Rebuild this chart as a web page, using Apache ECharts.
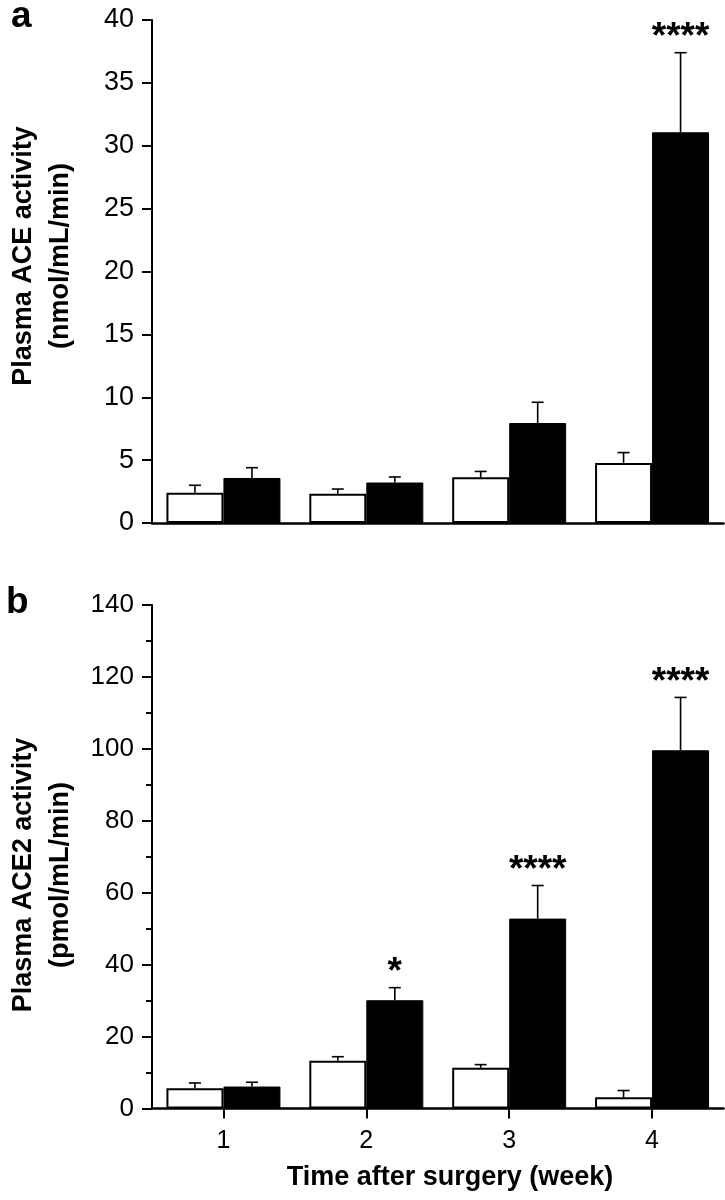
<!DOCTYPE html>
<html>
<head>
<meta charset="utf-8">
<script src="https://cdn.jsdelivr.net/npm/echarts@6/dist/echarts.min.js"></script>
<style>
html,body{margin:0;padding:0;background:#fff;}
#chart{width:725px;height:1200px;}
</style>
</head>
<body>
<div id="chart"></div>
<script>
// ---- data ----
const weeks = ['1', '2', '3', '4'];
// Panel a: plasma ACE activity (nmol/mL/min)
const aceOpen = [2.40, 2.32, 3.63, 4.78];
const aceOpenSem = [0.60, 0.38, 0.47, 0.82];
const aceFilled = [3.58, 3.22, 7.95, 31.07];
const aceFilledSem = [0.82, 0.44, 1.65, 6.33];
const aceSig = ['', '', '', '****'];
// Panel b: plasma ACE2 activity (pmol/mL/min)
const ace2Open = [5.6, 13.3, 11.3, 3.1];
const ace2OpenSem = [1.5, 1.1, 0.9, 1.9];
const ace2Filled = [6.1, 30.1, 52.8, 99.6];
const ace2FilledSem = [1.2, 3.5, 9.2, 14.7];
const ace2Sig = ['', '*', '****', '****'];
const aceTicks = {min: 0, max: 40, interval: 5};
const ace2Ticks = {min: 0, max: 140, interval: 20};

// ---- styles ----
const FONT = 'Liberation Sans, Arial, Helvetica, sans-serif';
const BAR_W = 57;

const chart = echarts.init(document.getElementById('chart'), null, {renderer: 'canvas'});

function errSeries(gridIdx, means, sems, offset, sig) {
  return {
    type: 'custom',
    xAxisIndex: gridIdx,
    yAxisIndex: gridIdx,
    z: 5,
    clip: false,
    silent: true,
    encode: {x: 0, y: 1},
    data: means.map((m, i) => [i, m, sems[i]]),
    renderItem: function (params, api) {
      const i = api.value(0);
      const m = api.value(1);
      const s = api.value(2);
      const base = api.coord([i, m]);
      const top = api.coord([i, m + s]);
      const x = base[0] + offset;
      const children = [
        {type: 'line', shape: {x1: x, y1: base[1], x2: x, y2: top[1]},
         style: {stroke: '#000', lineWidth: 1.6}},
        {type: 'line', shape: {x1: x - 6, y1: top[1], x2: x + 6, y2: top[1]},
         style: {stroke: '#000', lineWidth: 1.6}}
      ];
      const t = sig ? sig[params.dataIndex] : '';
      if (t) {
        children.push({type: 'text', x: x, y: top[1] - 15,
          style: {text: t, font: 'bold 37px ' + FONT, fill: '#000',
                  align: 'center', verticalAlign: 'middle'}});
      }
      return {type: 'group', children: children};
    }
  };
}

function barSeries(gridIdx, data, filled) {
  return {
    type: 'bar',
    xAxisIndex: gridIdx,
    yAxisIndex: gridIdx,
    data: data,
    barWidth: BAR_W,
    barGap: '0%',
    itemStyle: filled
      ? {color: '#000', borderColor: '#000', borderWidth: 1}
      : {color: '#fff', borderColor: '#000', borderWidth: 2}
  };
}

function yAxis(gridIdx, ticks, minor, fs) {
  return {
    type: 'value',
    gridIndex: gridIdx,
    min: ticks.min, max: ticks.max, interval: ticks.interval,
    splitLine: {show: false},
    axisLine: {show: true, lineStyle: {color: '#000', width: 2}},
    axisTick: {show: true, inside: false, length: 10, lineStyle: {color: '#000', width: 2}},
    minorTick: {show: minor, splitNumber: 2, length: 6, lineStyle: {color: '#000', width: 2}},
    axisLabel: {color: '#000', fontSize: fs, fontFamily: FONT, margin: 18}
  };
}

function xAxis(gridIdx, showLabels) {
  return {
    type: 'category',
    gridIndex: gridIdx,
    data: weeks,
    boundaryGap: true,
    axisLine: {show: true, lineStyle: {color: '#000', width: 2.5}},
    axisTick: {show: showLabels, alignWithLabel: true, length: 10, lineStyle: {color: '#000', width: 2}},
    axisLabel: {show: showLabels, color: '#000', fontSize: 25, fontFamily: FONT, margin: 20}
  };
}

const option = {
  animation: false,
  backgroundColor: '#fff',
  grid: [
    {left: 152, top: 20, width: 571.5, height: 503},
    {left: 152, top: 605, width: 571.5, height: 503.5}
  ],
  xAxis: [xAxis(0, false), xAxis(1, true)],
  yAxis: [yAxis(0, aceTicks, false, 27), yAxis(1, ace2Ticks, true, 26)],
  series: [
    barSeries(0, aceOpen, false),
    barSeries(0, aceFilled, true),
    errSeries(0, aceOpen, aceOpenSem, -BAR_W / 2, null),
    errSeries(0, aceFilled, aceFilledSem, BAR_W / 2, aceSig),
    barSeries(1, ace2Open, false),
    barSeries(1, ace2Filled, true),
    errSeries(1, ace2Open, ace2OpenSem, -BAR_W / 2, null),
    errSeries(1, ace2Filled, ace2FilledSem, BAR_W / 2, ace2Sig)
  ],
  graphic: [
    {type: 'text', left: 11, top: -2,
     style: {text: 'a', font: 'bold 37px ' + FONT, fill: '#000'}},
    {type: 'text', left: 6, top: 584,
     style: {text: 'b', font: 'bold 37px ' + FONT, fill: '#000'}},
    {type: 'text', x: 24, y: 256, rotation: Math.PI / 2,
     style: {text: 'Plasma ACE activity', font: 'bold 27px ' + FONT, fill: '#000',
             align: 'center', verticalAlign: 'middle'}},
    {type: 'text', x: 61, y: 256, rotation: Math.PI / 2,
     style: {text: '(nmol/mL/min)', font: 'bold 27px ' + FONT, fill: '#000',
             align: 'center', verticalAlign: 'middle'}},
    {type: 'text', x: 24, y: 875, rotation: Math.PI / 2,
     style: {text: 'Plasma ACE2 activity', font: 'bold 27px ' + FONT, fill: '#000',
             align: 'center', verticalAlign: 'middle'}},
    {type: 'text', x: 61, y: 875, rotation: Math.PI / 2,
     style: {text: '(pmol/mL/min)', font: 'bold 27px ' + FONT, fill: '#000',
             align: 'center', verticalAlign: 'middle'}},
    {type: 'text', x: 450, y: 1178,
     style: {text: 'Time after surgery (week)', font: 'bold 27px ' + FONT, fill: '#000',
             align: 'center', verticalAlign: 'middle'}}
  ]
};
chart.setOption(option);
</script>
</body>
</html>
